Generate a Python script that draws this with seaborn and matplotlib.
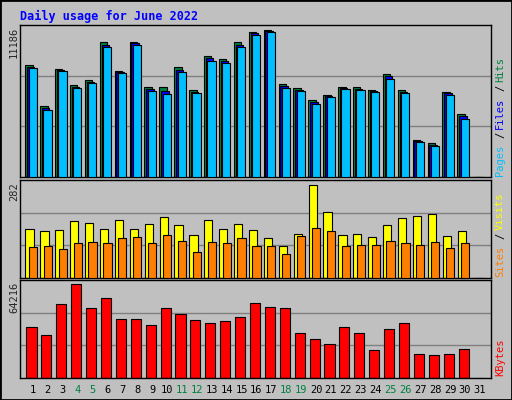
import numpy as np
import matplotlib
matplotlib.use("Agg")
import matplotlib.pyplot as plt
import seaborn as sns

sns.set_style("white")
plt.rcParams['font.family'] = ['DejaVu Sans Mono', 'DejaVu Sans']

days = list(range(1, 32))
day_labels = [str(d) for d in days]
weekend_days = [4, 5, 11, 12, 18, 19, 25, 26]

# top panel pixel-read values converted to counts
_ht = [64,105,68,84,79,41,70,41,86,86,66,89,55,58,41,31,29,83,87,99,94,86,86,89,73,89,139,142,91,113]
_pt = [67,109,70,87,82,46,72,44,90,93,71,92,60,62,46,34,31,87,90,103,96,88,89,91,78,92,141,145,94,118]
hits = [round((176 - t) / 147 * 11186) for t in _ht] + [0]
pages = [round((176 - t) / 147 * 11186) for t in _pt] + [0]
files = [round((h + p) / 2) for h, p in zip(hits, pages)]

_vt = [145,151,148,121,127,145,118,145,130,109,133,163,118,145,130,148,172,196,160,13,94,163,160,169,133,112,106,100,166,151]
_st = [199,196,205,187,184,187,172,169,187,163,181,211,184,187,172,196,196,217,166,142,151,196,193,193,181,187,193,184,202,187]
visits = [round((290 - t) / 277 * 282) for t in _vt] + [0]
sites = [round((290 - t) / 277 * 282) for t in _st] + [0]

_kt = [439,463,370,313,382,355,415,415,433,382,400,418,427,421,409,367,379,382,457,472,487,439,457,505,445,427,517,520,517,502]
kbytes = [round((587 - t) / 274 * 64216) for t in _kt] + [0]

BG = "#c0c0c0"
fig = plt.figure(figsize=(5.12, 4.0), dpi=100, facecolor=BG)
fig.patches.append(plt.Rectangle((0, 0), 1, 1, transform=fig.transFigure,
                                 fill=False, edgecolor="black", linewidth=2))
fig.text(20/512, 1 - 16/400, "Daily usage for June 2022", color="#0000ff",
         fontsize=8.5, fontweight="bold", va="center", ha="left")

L, W = 20/512, 471/512
def mkax(top, bot):
    ax = fig.add_axes([L, 1 - bot/400, W, (bot - top)/400])
    ax.set_facecolor(BG)
    for s in ax.spines.values():
        s.set_color("black"); s.set_linewidth(1)
    for f in (1/3, 2/3):
        ax.plot([0, 1], [f, f], color="#808080", linewidth=1, transform=ax.transAxes, zorder=0)
    ax.set_xlim(0.13, 31.74)
    ax.set_xticks([]); ax.set_yticks([])
    return ax

x = np.array(days, dtype=float)
ax1 = mkax(25, 177)
ax1.set_ylim(0, 11186 * 152 / 147)
ax1.bar(x - 0.27, hits, width=0.5, color="#008040", edgecolor="black", linewidth=0.8, zorder=2)
ax1.bar(x - 0.15, files, width=0.5, color="#0000ff", edgecolor="black", linewidth=0.8, zorder=3)
ax1.bar(x - 0.02, pages, width=0.55, color="#00bfff", edgecolor="black", linewidth=0.8, zorder=4)

ax2 = mkax(180, 278)
ax2.set_ylim(0, 282 * 98 / 93)
ax2.bar(x - 0.23, visits, width=0.55, color="#ffff00", edgecolor="black", linewidth=0.8, zorder=2)
ax2.bar(x + 0.0, sites, width=0.55, color="#ff8000", edgecolor="black", linewidth=0.8, zorder=3)

ax3 = mkax(280, 378)
ax3.set_ylim(0, 64216 * 98 / 94)
ax3.bar(x - 0.1, kbytes, width=0.68, color="#ff0000", edgecolor="black", linewidth=0.8, zorder=2)
ax3.set_xticks(days)
ax3.set_xticklabels(day_labels, fontsize=7.5)
ax3.tick_params(axis="x", length=0, pad=5)
for lab, d in zip(ax3.get_xticklabels(), days):
    lab.set_color("#008040" if d in weekend_days else "black")

# left max labels
for txt, y in (("11186", 25), ("282", 180), ("64216", 280)):
    fig.text(14/512, 1 - y/400 - 0.005, txt, rotation=90, fontsize=7.5, va="top", ha="center")

# right legend labels (bottom-to-top)
def legend(parts, ybottom):
    y = ybottom
    for t, c in parts:
        fig.text(500/512, 1 - y/400, t, rotation=90, color=c, fontsize=7.5,
                 va="bottom", ha="center")
        y -= 7.2 * len(t) + 2
legend([("Pages", "#00bfff"), ("/", "black"), ("Files", "#0000ff"), ("/", "black"), ("Hits", "#008040")], 176)
legend([("Sites", "#ff8000"), ("/", "black"), ("Visits", "#ffff00")], 277)
legend([("KBytes", "#ff0000")], 376)

fig.savefig("out.png", dpi=100, facecolor=BG)
